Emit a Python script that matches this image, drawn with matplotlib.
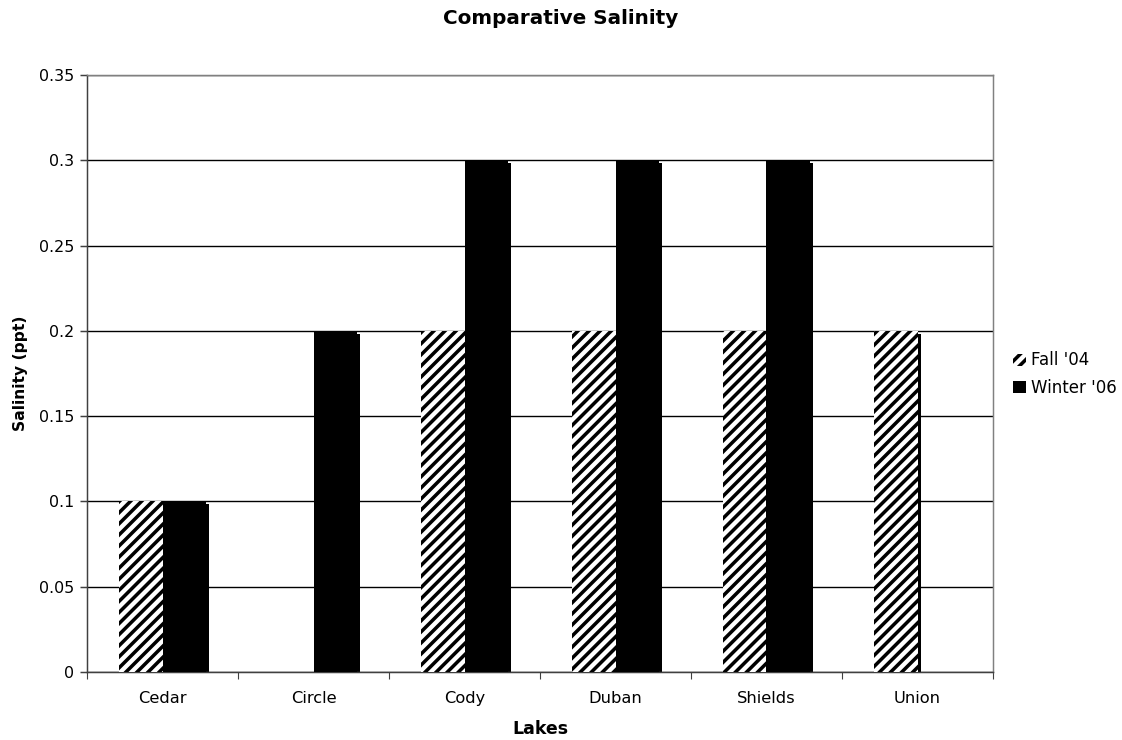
import matplotlib
matplotlib.use("Agg")
import matplotlib.pyplot as plt
import matplotlib.transforms as mtransforms
from matplotlib.patches import Patch
import numpy as np

lakes = ["Cedar", "Circle", "Cody", "Duban", "Shields", "Union"]
fall_04 = [0.1, 0.0, 0.2, 0.2, 0.2, 0.2]
winter_06 = [0.1, 0.2, 0.3, 0.3, 0.3, 0.0]
series_names = ["Fall '04", "Winter '06"]
yticks = [0, 0.05, 0.1, 0.15, 0.2, 0.25, 0.3, 0.35]
ytick_labels = ["0", "0.05", "0.1", "0.15", "0.2", "0.25", "0.3", "0.35"]

DPI = 133.333
plt.rcParams['font.family'] = ['DejaVu Sans']
plt.rcParams['hatch.linewidth'] = 1.9
plt.rcParams['hatch.color'] = 'black'

fig = plt.figure(figsize=(1122 / DPI, 740 / DPI), dpi=DPI)
ax = fig.add_axes([87 / 1122, 1 - 672 / 740, (993 - 87) / 1122, (672 - 75) / 740])

x = np.arange(len(lakes))
w = 0.29
shadow = mtransforms.offset_copy(ax.transData, fig=fig, x=3, y=-3, units='dots')

# shadows
ax.bar(x - w / 2, fall_04, w, color='black', linewidth=0, transform=shadow, zorder=2)
ax.bar(x + w / 2, winter_06, w, color='black', linewidth=0, transform=shadow, zorder=2)
# bars
ax.bar(x - w / 2, fall_04, w, facecolor='white', edgecolor='black', hatch='////',
       linewidth=0, zorder=3)
ax.bar(x + w / 2, winter_06, w, color='black', linewidth=0, zorder=3)

ax.set_xlim(-0.5, len(lakes) - 0.5)
ax.set_ylim(0, 0.35)
ax.set_yticks(yticks)
ax.set_yticklabels(ytick_labels)
ax.set_xticks(x)
ax.set_xticklabels(lakes)
ax.set_xticks(np.arange(len(lakes) + 1) - 0.5, minor=True)
ax.tick_params(axis='x', which='major', length=0, pad=10, labelsize=8.8)
ax.tick_params(axis='x', which='minor', length=4, direction='out', color='#404040')
ax.tick_params(axis='y', length=4, direction='out', color='#404040', labelsize=8.6, pad=3)

ax.yaxis.grid(True, color='black', linewidth=0.75, zorder=1)
ax.set_axisbelow(True)
for s in ['top', 'right']:
    ax.spines[s].set_color('#808080')
    ax.spines[s].set_linewidth(0.8)
for s in ['left', 'bottom']:
    ax.spines[s].set_color('#404040')
    ax.spines[s].set_linewidth(0.8)

ax.set_xlabel("Lakes", fontsize=9.4, fontweight='bold', labelpad=8)
ax.set_ylabel("Salinity (ppt)", fontsize=8.4, fontweight='bold', labelpad=6)
fig.suptitle("Comparative Salinity", fontsize=10.8, fontweight='bold', y=1 - 18 / 740, va='center')

handles = [Patch(facecolor='white', edgecolor='black', hatch='////', linewidth=0),
           Patch(facecolor='black', linewidth=0)]
fig.legend(handles, series_names, loc='center left', bbox_to_anchor=(1005 / 1122, 1 - 374 / 740),
           frameon=False, fontsize=9.0, handlelength=0.75, handleheight=0.75,
           handletextpad=0.3, labelspacing=0.55, borderpad=0)

fig.savefig("out.png", dpi=DPI)
